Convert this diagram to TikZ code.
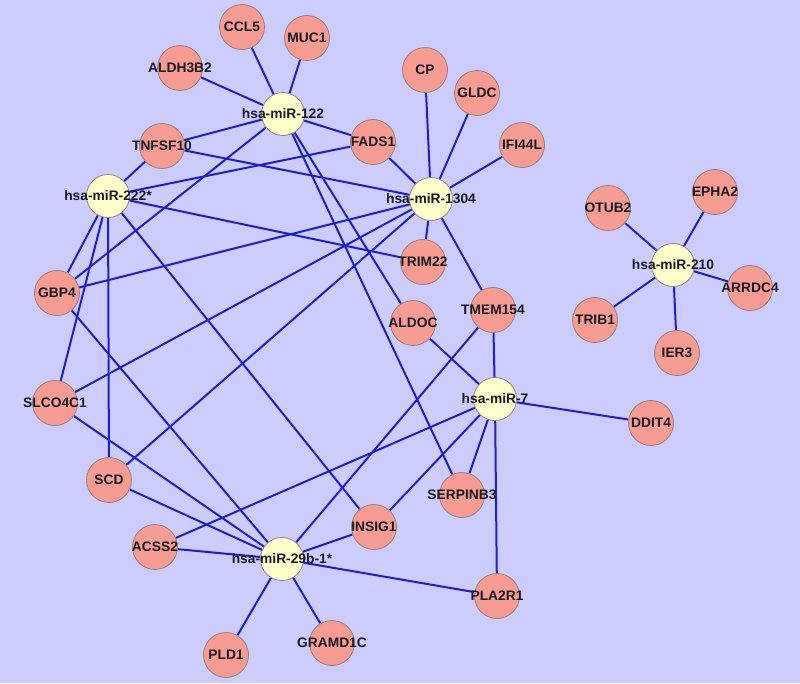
\documentclass[tikz,border=0pt]{standalone}
\usepackage{fontspec}
\setmainfont{Liberation Sans}
\usetikzlibrary{backgrounds}
\definecolor{bgc}{RGB}{204,204,255}
\definecolor{genefill}{RGB}{246,156,146}
\definecolor{mirfill}{RGB}{255,255,204}
\definecolor{rimc}{RGB}{150,125,125}
\definecolor{edgec}{RGB}{30,30,200}
\definecolor{txtc}{RGB}{25,25,35}
\begin{document}
\begin{tikzpicture}[x=1pt,y=-1pt,
  gene/.style={circle,draw=rimc,line width=0.8pt,fill=genefill,minimum size=45pt,inner sep=0pt},
  mir/.style={circle,draw=rimc,line width=0.8pt,fill=mirfill,minimum size=43pt,inner sep=0pt},
  every label/.style={font=\bfseries\fontsize{13.8}{15}\selectfont,text=txtc,inner sep=0pt},
  link/.style={draw=edgec,line width=2pt}]
% miRNA nodes
\node[mir,label=center:hsa-miR-122] (m122) at (283,114) {};
\node[mir,label=center:hsa-miR-222*] (m222) at (108,196) {};
\node[mir,label=center:hsa-miR-1304] (m1304) at (431,199) {};
\node[mir,label=center:hsa-miR-7] (m7) at (495,399) {};
\node[mir,label=center:hsa-miR-29b-1*] (m29) at (282,559) {};
\node[mir,label=center:hsa-miR-210] (m210) at (673,265) {};
% gene nodes
\node[gene,label=center:CCL5] (ccl5) at (242,27) {};
\node[gene,label=center:MUC1] (muc1) at (307,38) {};
\node[gene,label=center:ALDH3B2] (aldh) at (180,68) {};
\node[gene,label=center:TNFSF10] (tnf) at (162,146) {};
\node[gene,label=center:FADS1] (fads) at (373,142) {};
\node[gene,label=center:CP] (cp) at (425,70) {};
\node[gene,label=center:GLDC] (gldc) at (477,93) {};
\node[gene,label=center:IFI44L] (ifi) at (522,145) {};
\node[gene,label=center:TRIM22] (trim) at (423,262) {};
\node[gene,label=center:GBP4] (gbp) at (57,293) {};
\node[gene,label=center:ALDOC] (aldoc) at (413,323) {};
\node[gene,label=center:TMEM154] (tmem) at (493,310) {};
\node[gene,label=center:SLCO4C1] (slco) at (55,403) {};
\node[gene,label=center:SCD] (scd) at (109,480) {};
\node[gene,label=center:ACSS2] (acss) at (155,547) {};
\node[gene,label=center:INSIG1] (insig) at (374,527) {};
\node[gene,label=center:SERPINB3] (serp) at (462,495) {};
\node[gene,label=center:PLA2R1] (pla) at (497,596) {};
\node[gene,label=center:GRAMD1C] (gram) at (332,643) {};
\node[gene,label=center:PLD1] (pld) at (226,655) {};
\node[gene,label=center:DDIT4] (ddit) at (651,423) {};
\node[gene,label=center:OTUB2] (otub) at (608,208) {};
\node[gene,label=center:EPHA2] (epha) at (715,192) {};
\node[gene,label=center:ARRDC4] (arrdc) at (750,288) {};
\node[gene,label=center:TRIB1] (trib) at (595,320) {};
\node[gene,label=center:IER3] (ier) at (677,353) {};
\begin{scope}[on background layer]
\fill[bgc] (0,0) rectangle (800,683);
\foreach \g in {ccl5,muc1,aldh,tnf,fads,gbp,aldoc,serp} \draw[link] (m122) -- (\g);
\foreach \g in {tnf,fads,trim,gbp,slco,scd,insig} \draw[link] (m222) -- (\g);
\foreach \g in {cp,gldc,ifi,fads,tnf,trim,tmem,gbp,slco,scd} \draw[link] (m1304) -- (\g);
\foreach \g in {tmem,aldoc,ddit,serp,insig,pla,acss} \draw[link] (m7) -- (\g);
\foreach \g in {acss,scd,slco,gbp,tmem,insig,pla,pld,gram} \draw[link] (m29) -- (\g);
\foreach \g in {otub,epha,arrdc,trib,ier} \draw[link] (m210) -- (\g);
\end{scope}
\end{tikzpicture}
\end{document}
